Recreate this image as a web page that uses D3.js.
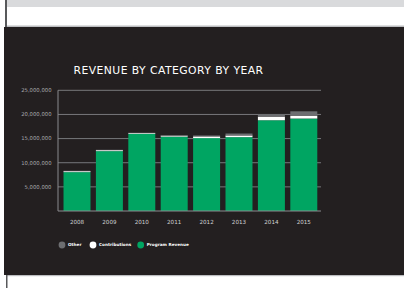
<!DOCTYPE html>
<html><head><meta charset="utf-8">
<script src="https://cdn.jsdelivr.net/npm/d3@7"></script>
<style>html,body{margin:0;padding:0;background:#fff;}svg{display:block;}</style>
</head><body>
<script>
const years = ["2008","2009","2010","2011","2012","2013","2014","2015"];
const programRevenue = [8050000,12400000,16000000,15400000,15100000,15300000,18800000,19150000];
const contributions = [200000,200000,150000,200000,350000,350000,750000,600000];
const other = [80000,80000,60000,100000,200000,400000,500000,900000];
const yTicks = [5000000,10000000,15000000,20000000,25000000];
const seriesNames = ["Program Revenue","Contributions","Other"];
const legendOrder = ["Other","Contributions","Program Revenue"];
const colors = {"Program Revenue":"#00a562","Contributions":"#ffffff","Other":"#6d6e71"};

const W=404,H=288;
const svg=d3.select("body").append("svg").attr("width",W).attr("height",H);
// page frame
svg.append("rect").attr("x",0).attr("y",0).attr("width",W).attr("height",H).attr("fill","#fff");
svg.append("rect").attr("x",5).attr("y",0).attr("width",W-5).attr("height",7).attr("fill","#d9dadc");
svg.append("rect").attr("x",5).attr("y",0).attr("width",2).attr("height",27).attr("fill","#58595b");
svg.append("rect").attr("x",7).attr("y",25.5).attr("width",W-7).attr("height",1.5).attr("fill","#bcbdc0");
svg.append("rect").attr("x",4).attr("y",27).attr("width",W-4).attr("height",248).attr("fill","#231f20");
svg.append("rect").attr("x",6).attr("y",275).attr("width",W-6).attr("height",1.2).attr("fill","#bcbdc0");
svg.append("rect").attr("x",6).attr("y",275).attr("width",1.5).attr("height",13).attr("fill","#58595b");

const data = years.map((y,i)=>({year:y,"Program Revenue":programRevenue[i],"Contributions":contributions[i],"Other":other[i]}));
const stack = d3.stack().keys(seriesNames)(data);

const x=d3.scaleBand().domain(years).range([58,322.8]).paddingInner(0.167).paddingOuter(0.17);
const y=d3.scaleLinear().domain([0,25000000]).range([211,90.3]);

// gridlines
svg.append("g").selectAll("line").data(yTicks).join("line")
  .attr("x1",58).attr("x2",321).attr("y1",d=>y(d)).attr("y2",d=>y(d))
  .attr("stroke","#77787b").attr("stroke-width",1);

// bars
svg.append("g").selectAll("g").data(stack).join("g").attr("fill",d=>colors[d.key])
  .selectAll("rect").data(d=>d).join("rect")
  .attr("x",d=>x(d.data.year)).attr("width",x.bandwidth())
  .attr("y",d=>y(d[1])).attr("height",d=>y(d[0])-y(d[1]));

// axes lines
svg.append("line").attr("x1",58).attr("x2",58).attr("y1",90.3).attr("y2",211).attr("stroke","#8a8b8e").attr("stroke-width",1);
svg.append("line").attr("x1",58).attr("x2",321).attr("y1",211).attr("y2",211).attr("stroke","#8a8b8e").attr("stroke-width",1);

// y tick labels
const fmt=d3.format(",");
svg.append("g").selectAll("text").data(yTicks).join("text")
  .attr("x",51.5).attr("y",d=>y(d)).attr("dy","0.35em").attr("text-anchor","end")
  .attr("font-family","DejaVu Sans").attr("font-size",5.3).attr("fill","#a7a9ac")
  .text(d=>fmt(d));

// x labels
svg.append("g").selectAll("text").data(years).join("text")
  .attr("x",d=>x(d)+x.bandwidth()/2).attr("y",221.8).attr("dy","0.35em").attr("text-anchor","middle")
  .attr("font-family","DejaVu Sans").attr("font-size",5.6).attr("fill","#d1d3d4")
  .text(d=>d);

// title
svg.append("text").attr("x",168.5).attr("y",70).attr("dy","0.35em").attr("text-anchor","middle")
  .attr("font-family","DejaVu Sans").attr("font-weight","500").attr("font-size",10.8).attr("fill","#ffffff").attr("letter-spacing",0.45)
  .text("REVENUE BY CATEGORY BY YEAR");

// legend
const legendX = [62, 93, 140.7];
const leg=svg.append("g");
legendOrder.forEach((k,i)=>{
  leg.append("circle").attr("cx",legendX[i]).attr("cy",245).attr("r",3.4).attr("fill",colors[k]);
  leg.append("text").attr("x",legendX[i]+6).attr("y",245).attr("dy","0.35em")
    .attr("font-family","DejaVu Sans").attr("font-weight","bold").attr("font-size",4.2).attr("fill","#ffffff").text(k);
});
</script>
</body></html>
